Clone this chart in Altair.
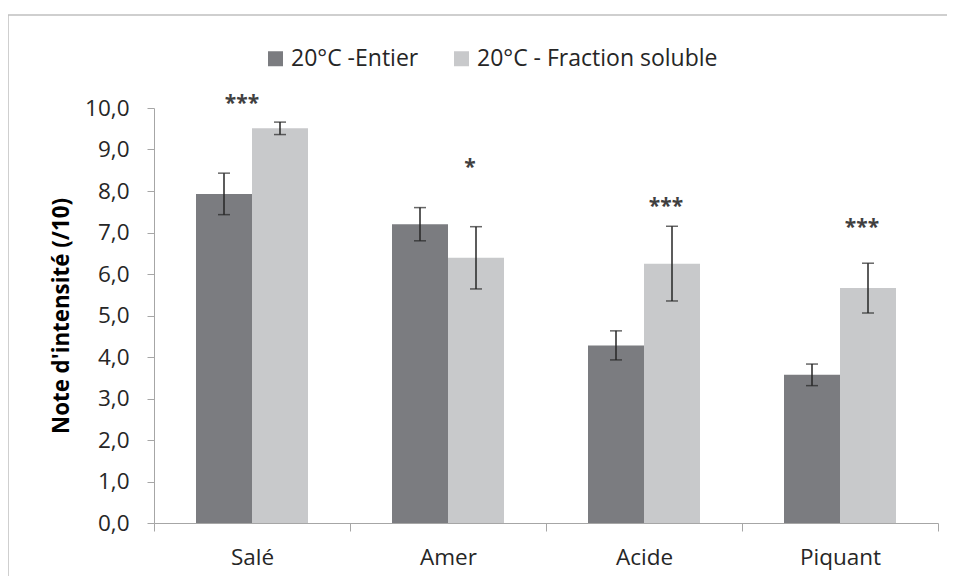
import altair as alt
import pandas as pd

categories = ["Salé", "Amer", "Acide", "Piquant"]
series = ["20°C -Entier", "20°C - Fraction soluble"]
entier = [7.93, 7.20, 4.28, 3.57]
entier_err = [0.50, 0.40, 0.35, 0.26]
soluble = [9.51, 6.39, 6.25, 5.66]
soluble_err = [0.15, 0.75, 0.90, 0.60]
stars = ["***", "*", "***", "***"]
star_y = [10.19, 8.65, 7.72, 7.21]

colors = ["#7b7c80", "#c8c9cb"]
FONT = "Open Sans"

rows = []
for i, c in enumerate(categories):
    rows.append({"cat": c, "serie": series[0], "v": entier[i],
                 "lo": entier[i] - entier_err[i], "hi": entier[i] + entier_err[i]})
    rows.append({"cat": c, "serie": series[1], "v": soluble[i],
                 "lo": soluble[i] - soluble_err[i], "hi": soluble[i] + soluble_err[i]})
df = pd.DataFrame(rows)
sdf = pd.DataFrame({"cat": categories, "serie": [series[1]] * 4, "s": stars, "y": star_y})

xenc = alt.X("cat:N", sort=categories, title=None,
             scale=alt.Scale(paddingInner=0, paddingOuter=0),
             axis=alt.Axis(labelAngle=0, labelFont=FONT, labelFontSize=22.5, labelColor="#262626",
                           domainColor="#a6a6a6", tickColor="#a6a6a6", tickSize=8,
                           tickBand="extent", labelPadding=15))
xoff = alt.XOffset("serie:N", sort=series,
                   scale=alt.Scale(paddingInner=0, paddingOuter=0.75))
yscale = alt.Scale(domain=[0, 10], nice=False)

bars = alt.Chart(df).mark_bar().encode(
    x=xenc, xOffset=xoff,
    y=alt.Y("v:Q", scale=yscale, title="Note d'intensité (/10)",
            axis=alt.Axis(values=list(range(0, 11)), grid=False,
                          labelExpr="replace(format(datum.value, '.1f'), '.', ',')",
                          labelFont=FONT, labelFontSize=22.5, labelColor="#262626",
                          domainColor="#a6a6a6", tickColor="#a6a6a6", tickSize=7,
                          labelPadding=18, titleFont=FONT, titleFontSize=22.3,
                          titleFontWeight="bold", titleColor="#000000", titlePadding=11)),
    color=alt.Color("serie:N", sort=series, scale=alt.Scale(domain=series, range=colors),
                    legend=alt.Legend(title=None, orient="none", direction="horizontal",
                                      legendX=110, legendY=-61, symbolType="square",
                                      symbolSize=225, symbolStrokeWidth=0, labelLimit=500,
                                      labelFont=FONT, labelFontSize=23, labelColor="#262626",
                                      columnPadding=31, labelOffset=4)),
)

err = alt.Chart(df).mark_rule(color="#262626", strokeWidth=1.5).encode(
    x=alt.X("cat:N", sort=categories), xOffset=xoff,
    y=alt.Y("lo:Q", scale=yscale), y2="hi:Q")
cap_lo = alt.Chart(df).mark_tick(color="#262626", thickness=1.5, size=12).encode(
    x=alt.X("cat:N", sort=categories), xOffset=xoff, y=alt.Y("lo:Q", scale=yscale))
cap_hi = alt.Chart(df).mark_tick(color="#262626", thickness=1.5, size=12).encode(
    x=alt.X("cat:N", sort=categories), xOffset=xoff, y=alt.Y("hi:Q", scale=yscale))

star_base = alt.Chart(sdf)
star1 = star_base.transform_filter(alt.datum.cat == "Salé").mark_text(
    font=FONT, fontSize=21, fontWeight="bold", color="#404040", dx=-38, dy=4,
    baseline="middle").encode(
    x=alt.X("cat:N", sort=categories), xOffset=xoff, y=alt.Y("y:Q", scale=yscale), text="s:N")
star2 = star_base.transform_filter(alt.datum.cat != "Salé").mark_text(
    font=FONT, fontSize=21, fontWeight="bold", color="#404040", dx=-6, dy=4,
    baseline="middle").encode(
    x=alt.X("cat:N", sort=categories), xOffset=xoff, y=alt.Y("y:Q", scale=yscale), text="s:N")

frame_top = alt.Chart(pd.DataFrame({"a": [0]})).mark_rule(color="#bfbfbf", strokeWidth=1.5).encode(
    x=alt.value(-146), x2=alt.value(800), y=alt.value(-93))
frame_left = alt.Chart(pd.DataFrame({"a": [0]})).mark_rule(color="#bfbfbf", strokeWidth=1.5).encode(
    x=alt.value(-146), y=alt.value(-93), y2=alt.value(480))

chart = alt.layer(bars, err, cap_lo, cap_hi, star1, star2, frame_top, frame_left).properties(
    width=784, height=415, autosize="none",
    padding={"left": 146, "top": 100, "right": 9, "bottom": 53},
).configure_view(stroke=None)

chart.save("out.html", embed_options={"renderer": "svg", "actions": False})
